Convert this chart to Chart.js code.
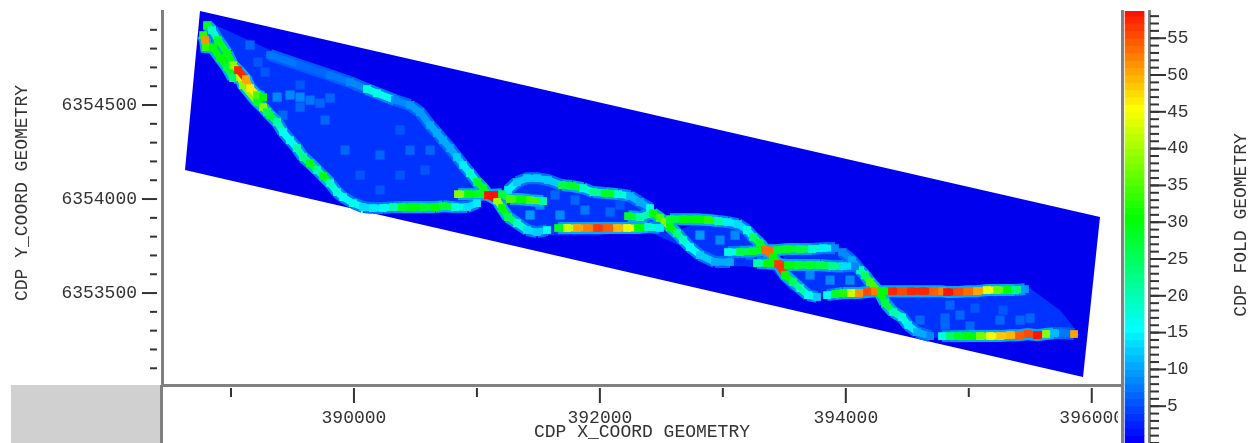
<!DOCTYPE html>
<html>
<head>
<meta charset="utf-8">
<script src="https://cdn.jsdelivr.net/npm/chart.js@4"></script>
<style>
  html, body { margin: 0; background: #fff; overflow: hidden; }
  canvas { position: absolute; top: 0; filter: blur(0.6px); }
  #map { left: 0; clip-path: polygon(0 0, 1122px 0, 1122px 388px, 1118px 388px, 1118px 443px, 0 443px); }
  #bar { left: 1118px; }
  #corner { position: absolute; left: 11px; top: 385px; width: 149px; height: 58px; background: #d0d0d0; }
  #stub { position: absolute; left: 160px; top: 385px; width: 3px; height: 58px; background: #808080; }
</style>
</head>
<body>
<div id="corner"></div>
<div id="stub"></div>
<canvas id="map" width="1248" height="443"></canvas>
<canvas id="bar" width="130" height="443"></canvas>
<script>
// axis ranges and ticks
const xRange = [388439, 396246];
const yRange = [6353011, 6355000];
const foldRange = [0, 58.7];
const xMajorTicks = [390000, 392000, 394000, 396000];
const xMinorTicks = [389000, 391000, 393000, 395000];
const yMajorTicks = [6353500, 6354000, 6354500];
const yMinorTicks = [6353100, 6353200, 6353300, 6353400, 6353600, 6353700, 6353800, 6353900,
  6354100, 6354200, 6354300, 6354400, 6354600, 6354700, 6354800, 6354900];
const foldMajorTicks = [5, 10, 15, 20, 25, 30, 35, 40, 45, 50, 55];
const foldLevels = [0, 1, 2, 3, 4, 5, 6, 7, 8, 9, 10, 11, 12, 13, 14, 15, 16, 17, 18, 19,
  20, 21, 22, 23, 24, 25, 26, 27, 28, 29, 30, 31, 32, 33, 34, 35, 36, 37, 38, 39,
  40, 41, 42, 43, 44, 45, 46, 47, 48, 49, 50, 51, 52, 53, 54, 55, 56, 57, 58];

// survey outline
const surveyX = [388748, 396067, 395929, 388626];
const surveyY = [6355000, 6353904, 6353053, 6354154];

// low fold areas between the lines
const lensNwX = [388870, 389318, 389806, 390171, 390456, 390700, 390944, 391107, 391009, 390700, 390131, 389887, 389562, 389277];
const lensNwY = [6354925, 6354792, 6354686, 6354590, 6354510, 6354377, 6354154, 6354021, 6353978, 6353957, 6353957, 6354021, 6354260, 6354526];
const lensMidX = [391229, 391351, 391578, 392001, 392326, 392554, 392326, 392001, 391554, 391391, 391269];
const lensMidY = [6354021, 6354090, 6354111, 6354048, 6353984, 6353899, 6353846, 6353808, 6353808, 6353835, 6353941];
const lensSouthX = [392408, 392587, 392814, 393140, 393319, 393628, 393750, 393546, 393400, 393180, 392936, 392733];
const lensSouthY = [6353824, 6353824, 6353877, 6353856, 6353728, 6353516, 6353473, 6353516, 6353622, 6353643, 6353643, 6353728];
const lensHookX = [393465, 393912, 394116, 394278, 393872, 393725, 393587];
const lensHookY = [6353728, 6353750, 6353633, 6353505, 6353473, 6353489, 6353569];
const lensEastX = [394294, 395498, 395742, 395905, 395498, 394644, 394481];
const lensEastY = [6353500, 6353526, 6353409, 6353276, 6353261, 6353261, 6353330];

// single brighter cells inside those areas
const patchX = [389375, 389480, 389562, 389643, 389724, 389806, 389562, 389155, 389220, 389277, 389423, 389562, 389765, 389928, 390050, 390212, 390456, 390578, 390375, 390375, 390619, 390212,
  391513, 391676, 391879, 392083, 391432, 391798, 391635, 392164,
  392814, 392977, 393099, 393221, 393709, 393872, 394034, 393953,
  394847, 394929, 394807, 395051, 395254, 395417, 395498, 394603, 394807, 395010, 395278];
const patchY = [6354542, 6354553, 6354542, 6354526, 6354510, 6354537, 6354489, 6354819, 6354728, 6354675, 6354446, 6354606, 6354420, 6354260, 6354127, 6354234, 6354260, 6354154, 6354127, 6354367, 6354260, 6354048,
  6353968, 6353915, 6353941, 6353931, 6353915, 6353994, 6354021, 6353968,
  6353808, 6353782, 6353808, 6353702, 6353596, 6353569, 6353569, 6353633,
  6353436, 6353383, 6353367, 6353420, 6353356, 6353356, 6353367, 6353356, 6353330, 6353324, 6353409];
const patchFold = [8, 8, 8, 7, 6, 6, 6, 6, 5, 5, 6, 5, 6, 6, 5, 6, 6, 5, 5, 5, 6, 5,
  8, 8, 7, 6, 9, 6, 6, 5,
  9, 8, 8, 7, 8, 8, 8, 6,
  6, 6, 6, 5, 6, 6, 6, 6, 6, 6, 5];

// high fold lines, cell by cell
const rampUpperX = [388805, 388846, 388895, 388968, 389017, 389057, 389122, 389155, 389212, 389261];
const rampUpperY = [6354925, 6354898, 6354845, 6354776, 6354712, 6354686, 6354638, 6354590, 6354553, 6354542];
const rampUpperFold = [28, 18, 28, 29, 38, 57, 50, 46, 34, 30];

const rampLowerX = [388773, 388789, 388797, 388854, 388911, 388968, 389017, 389074, 389098, 389212, 389261, 389293];
const rampLowerY = [6354872, 6354845, 6354808, 6354803, 6354750, 6354702, 6354643, 6354649, 6354606, 6354516, 6354489, 6354462];
const rampLowerFold = [32, 51, 33, 30, 30, 27, 24, 42, 38, 28, 38, 25];

const rampMainX = [389293, 389318, 389375, 389423, 389480, 389537, 389586, 389643, 389700, 389749, 389806, 389862, 389911, 389993, 390074, 390155, 390236, 390318, 390391, 390472, 390562, 390659, 390724, 390822, 390920, 391001];
const rampMainY = [6354462, 6354446, 6354409, 6354356, 6354313, 6354271, 6354223, 6354191, 6354154, 6354122, 6354085, 6354037, 6354010, 6353978, 6353957, 6353952, 6353952, 6353957, 6353957, 6353957, 6353957, 6353957, 6353962, 6353957, 6353957, 6353978];
const rampMainFold = [25, 27, 20, 16, 16, 20, 22, 29, 20, 29, 18, 17, 15, 16, 13, 14, 16, 20, 28, 30, 28, 30, 27, 17, 13, 14];

const northEdgeX = [389318, 389562, 389806, 389968, 390106, 390188, 390334];
const northEdgeY = [6354766, 6354712, 6354659, 6354622, 6354585, 6354563, 6354526];
const northEdgeFold = [7, 6, 7, 8, 17, 16, 8];

const hubLineX = [390846, 390928, 391009, 391090, 391204, 391269, 391351, 391432, 391538];
const hubLineY = [6354026, 6354026, 6354026, 6354021, 6354026, 6354000, 6354000, 6353994, 6353989];
const hubLineFold = [38, 30, 28, 58, 26, 34, 30, 34, 20];

const crossDiagX = [390334, 390456, 390537, 390619, 390676, 390724, 390781, 390838, 390887, 390944, 391001, 391050, 391090, 391164, 391204, 391253, 391326, 391408, 391489, 391570];
const crossDiagY = [6354526, 6354500, 6354462, 6354393, 6354351, 6354313, 6354271, 6354223, 6354181, 6354138, 6354090, 6354058, 6354021, 6353994, 6353952, 6353904, 6353872, 6353835, 6353824, 6353835];
const crossDiagFold = [8, 9, 9, 10, 10, 10, 10, 12, 14, 18, 28, 28, 58, 40, 30, 25, 18, 13, 12, 16];

const lowerChainX = [391660, 391733, 391814, 391895, 391977, 392058, 392139, 392221, 392310, 392392, 392489];
const lowerChainY = [6353846, 6353846, 6353846, 6353846, 6353846, 6353846, 6353846, 6353846, 6353846, 6353851, 6353846];
const lowerChainFold = [28, 42, 50, 52, 56, 54, 49, 44, 30, 18, 14];

const upperArcX = [391253, 391326, 391408, 391489, 391578, 391692, 391774, 391863, 391944, 392042, 392148, 392245, 392326, 392408];
const upperArcY = [6354048, 6354090, 6354111, 6354111, 6354101, 6354074, 6354069, 6354058, 6354037, 6354032, 6354026, 6354016, 6353984, 6353952];
const upperArcFold = [14, 12, 12, 12, 12, 26, 28, 18, 22, 28, 18, 11, 10, 16];

const midDiagX = [392229, 392326, 392432, 392489, 392530, 392570, 392627, 392676, 392733, 392814, 392936, 393058];
const midDiagY = [6353909, 6353904, 6353925, 6353899, 6353877, 6353851, 6353819, 6353782, 6353744, 6353702, 6353665, 6353665];
const midDiagFold = [28, 20, 30, 34, 38, 30, 22, 18, 15, 12, 10, 10];

const upperRightX = [392570, 392676, 392790, 392879, 392961, 393042, 393123, 393197, 393245, 393302, 393343, 393408, 393449, 393506, 393571, 393628, 393693, 393766];
const upperRightY = [6353893, 6353893, 6353893, 6353888, 6353883, 6353877, 6353867, 6353835, 6353798, 6353766, 6353728, 6353691, 6353654, 6353596, 6353558, 6353526, 6353489, 6353479];
const upperRightFold = [27, 30, 30, 32, 20, 14, 13, 17, 24, 28, 53, 30, 56, 30, 24, 20, 16, 12];

const midEastX = [393042, 393140, 393245, 393343, 393441, 393522, 393628, 393725, 393815, 393912];
const midEastY = [6353718, 6353718, 6353723, 6353728, 6353728, 6353734, 6353734, 6353734, 6353739, 6353739];
const midEastFold = [17, 26, 28, 53, 28, 28, 26, 18, 14, 8];

const lowerEastX = [393278, 393359, 393449, 393530, 393611, 393709, 393790, 393888, 393977, 394075];
const lowerEastY = [6353659, 6353659, 6353654, 6353649, 6353649, 6353649, 6353649, 6353643, 6353643, 6353643];
const lowerEastFold = [20, 30, 56, 30, 28, 28, 26, 22, 13, 8];

const eastLongX = [393847, 393912, 393977, 394042, 394107, 394172, 394237, 394294, 394376, 394449, 394530, 394628, 394709, 394782, 394823, 394904, 394986, 395067, 395148, 395230, 395311, 395376, 395457];
const eastLongY = [6353489, 6353495, 6353500, 6353500, 6353500, 6353505, 6353510, 6353510, 6353510, 6353510, 6353510, 6353510, 6353510, 6353510, 6353505, 6353505, 6353510, 6353510, 6353516, 6353516, 6353516, 6353516, 6353521];
const eastLongFold = [16, 28, 32, 42, 51, 55, 52, 30, 57, 55, 57, 57, 54, 52, 58, 55, 53, 50, 44, 36, 30, 23, 9];

const eastDiagX = [393969, 394050, 394116, 394156, 394197, 394278, 394319, 394384, 394457, 394506, 394579, 394685];
const eastDiagY = [6353718, 6353675, 6353622, 6353596, 6353558, 6353500, 6353447, 6353399, 6353372, 6353330, 6353292, 6353271];
const eastDiagFold = [8, 10, 20, 24, 34, 30, 26, 20, 17, 14, 10, 8];

const southEastX = [394782, 394847, 394912, 394994, 395091, 395173, 395254, 395335, 395409, 395482, 395555, 395628, 395693, 395766, 395856];
const southEastY = [6353271, 6353271, 6353271, 6353271, 6353271, 6353271, 6353271, 6353276, 6353276, 6353282, 6353276, 6353282, 6353287, 6353287, 6353282];
const southEastFold = [17, 24, 28, 30, 37, 44, 48, 49, 54, 55, 58, 38, 11, 7, 50];

const TEXT = '#333';
const SPINE = '#808080';
const FONT = 'Liberation Mono';
const SIZE = 18;

// blue-cyan-green-yellow-red, same ramp as the colour bar
function foldColor(v) {
  if (v < 15) return `rgb(0,${Math.round(17 * v)},255)`;
  if (v < 30) return `rgb(0,255,${Math.round(255 - 17 * (v - 15))})`;
  if (v < 45) return `rgb(${Math.round(17 * (v - 30))},255,0)`;
  return `rgb(255,${Math.max(0, Math.round(255 - 18.2 * (v - 45)))},0)`;
}

function pairs(xs, ys) { return xs.map((x, i) => ({ x, y: ys[i] })); }
function cells(xs, ys, folds) { return xs.map((x, i) => ({ x, y: ys[i], fold: folds[i] })); }

function area(xs, ys, color) {
  return { data: pairs(xs, ys), showLine: true, fill: 'shape', backgroundColor: color,
           borderWidth: 0, pointRadius: 0 };
}
function track(t) {
  return {
    data: cells(t[0], t[1], t[2]), showLine: true, borderWidth: 7,
    segment: { borderColor: (c) => foldColor(c.p0.raw.fold) },
    pointStyle: 'rect', pointRadius: 5.5, pointBorderWidth: 0,
    pointBackgroundColor: (c) => foldColor(c.raw ? c.raw.fold : 0)
  };
}
// softer fringe around a line, the cells next to it have lower fold
function fringe(t) {
  return {
    data: cells(t[0], t[1], t[2]), showLine: true, borderWidth: 12,
    segment: { borderColor: (c) => foldColor(Math.min(10, c.p0.raw.fold * 0.2 + 4)) },
    pointRadius: 0
  };
}

// tick marks sit off the spine, so they are stroked here from the axis scales
function axisDecor(marks, titles) {
  return {
    id: 'axisDecor',
    afterDraw(chart) {
      const ctx = chart.ctx;
      ctx.save();
      ctx.strokeStyle = TEXT;
      ctx.lineWidth = 2;
      for (const m of marks) {
        const s = chart.scales[m.scale];
        for (const v of m.values) {
          const p = s.getPixelForValue(v);
          ctx.beginPath();
          if (s.isHorizontal()) {
            ctx.moveTo(p, s.top + m.from);
            ctx.lineTo(p, s.top + m.to);
          } else if (s.position === 'left') {
            ctx.moveTo(s.right - m.from, p);
            ctx.lineTo(s.right - m.to, p);
          } else {
            ctx.moveTo(s.left + m.from, p);
            ctx.lineTo(s.left + m.to, p);
          }
          ctx.stroke();
        }
      }
      ctx.fillStyle = TEXT;
      ctx.font = `${SIZE}px "${FONT}"`;
      ctx.textAlign = 'center';
      ctx.textBaseline = 'middle';
      for (const t of titles) {
        ctx.save();
        ctx.translate(t.x, t.y);
        ctx.rotate(-Math.PI / 2);
        ctx.fillText(t.text, 0, 0);
        ctx.restore();
      }
      ctx.restore();
    }
  };
}

Chart.defaults.font.family = FONT;
Chart.defaults.font.size = SIZE;
Chart.defaults.color = TEXT;
Chart.defaults.animation = false;
Chart.defaults.events = [];
Chart.defaults.plugins.legend.display = false;
Chart.defaults.plugins.tooltip.enabled = false;

// hottest lines first, dataset 0 ends up on top
const tracks = [
  [southEastX, southEastY, southEastFold],
  [eastLongX, eastLongY, eastLongFold],
  [hubLineX, hubLineY, hubLineFold],
  [lowerChainX, lowerChainY, lowerChainFold],
  [rampUpperX, rampUpperY, rampUpperFold],
  [rampLowerX, rampLowerY, rampLowerFold],
  [midEastX, midEastY, midEastFold],
  [lowerEastX, lowerEastY, lowerEastFold],
  [upperRightX, upperRightY, upperRightFold],
  [midDiagX, midDiagY, midDiagFold],
  [upperArcX, upperArcY, upperArcFold],
  [eastDiagX, eastDiagY, eastDiagFold],
  [rampMainX, rampMainY, rampMainFold],
  [crossDiagX, crossDiagY, crossDiagFold],
  [northEdgeX, northEdgeY, northEdgeFold]
];

new Chart(document.getElementById('map'), {
  type: 'scatter',
  data: {
    datasets: [
      ...tracks.map(track),
      ...tracks.map(fringe),
      { data: cells(patchX, patchY, patchFold), pointStyle: 'rect', pointRadius: 6.5, pointBorderWidth: 0,
        pointBackgroundColor: (c) => foldColor(c.raw ? c.raw.fold : 0) },
      area(lensNwX, lensNwY, foldColor(3)),
      area(lensMidX, lensMidY, foldColor(3)),
      area(lensSouthX, lensSouthY, foldColor(3)),
      area(lensHookX, lensHookY, foldColor(3)),
      area(lensEastX, lensEastY, foldColor(3)),
      area(surveyX, surveyY, '#0000ee')
    ]
  },
  options: {
    responsive: false,
    layout: { padding: { left: 0, top: 11, right: 126, bottom: 0 } },
    scales: {
      x: {
        type: 'linear', min: xRange[0], max: xRange[1],
        grid: { display: false, drawTicks: false },
        border: { color: SPINE, width: 3 },
        afterBuildTicks: (s) => { s.ticks = xMajorTicks.map((value) => ({ value })); },
        afterFit: (s) => { s.height = 58; s.paddingLeft = 0; s.paddingRight = 0; },
        ticks: { autoSkip: false, maxRotation: 0, padding: 22, callback: (v) => String(v) },
        title: { display: true, text: 'CDP X_COORD GEOMETRY', padding: 0 }
      },
      y: {
        type: 'linear', min: yRange[0], max: yRange[1],
        grid: { display: false, drawTicks: false },
        border: { color: SPINE, width: 3 },
        afterBuildTicks: (s) => { s.ticks = yMajorTicks.map((value) => ({ value })); },
        afterFit: (s) => { s.width = 162; s.paddingTop = 0; s.paddingBottom = 0; },
        ticks: { autoSkip: false, padding: 25, callback: (v) => String(v) }
      }
    }
  },
  plugins: [axisDecor([
    { scale: 'x', values: xMajorTicks, from: 3, to: 18 },
    { scale: 'x', values: xMinorTicks, from: 3, to: 12 },
    { scale: 'y', values: yMajorTicks, from: 5, to: 20 },
    { scale: 'y', values: yMinorTicks, from: 5, to: 12 }
  ], [{ text: 'CDP Y_COORD GEOMETRY', x: 22, y: 193 }])]
});

// colour bar: one floating bar per fold level
new Chart(document.getElementById('bar'), {
  type: 'bar',
  data: {
    datasets: [{
      data: foldLevels.map((v) => ({ x: 0.43, y: [v, v + 1] })),
      backgroundColor: foldLevels.map((v) => foldColor(v)),
      barThickness: 19,
      yAxisID: 'y'
    }]
  },
  options: {
    responsive: false,
    layout: { padding: { left: 4, top: 11, right: 0, bottom: 0 } },
    scales: {
      x: { type: 'linear', min: 0, max: 1, display: false },
      spineLeft: {
        position: 'left', min: 0, max: 1,
        grid: { display: false, drawTicks: false },
        border: { color: SPINE, width: 3 },
        ticks: { display: false },
        afterFit: (s) => { s.width = 0; s.paddingTop = 0; s.paddingBottom = 0; }
      },
      y: {
        type: 'linear', position: 'right', min: foldRange[0], max: foldRange[1],
        grid: { display: false, drawTicks: false },
        border: { color: SPINE, width: 3 },
        afterBuildTicks: (s) => { s.ticks = foldMajorTicks.map((value) => ({ value })); },
        afterFit: (s) => { s.width = 99; s.paddingTop = 0; s.paddingBottom = 0; },
        ticks: { autoSkip: false, padding: 18, callback: (v) => String(v) }
      }
    }
  },
  plugins: [axisDecor([
    { scale: 'y', values: foldLevels, from: 1, to: 10 },
    { scale: 'y', values: foldMajorTicks, from: 1, to: 17 }
  ], [{ text: 'CDP FOLD GEOMETRY', x: 123, y: 225 }])]
});
</script>
</body>
</html>
